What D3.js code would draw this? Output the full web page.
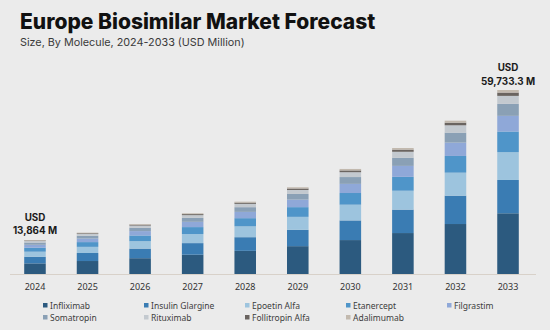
<!DOCTYPE html>
<html>
<head>
<meta charset="utf-8">
<script src="https://cdn.jsdelivr.net/npm/d3@7"></script>
<style>
  html, body { margin: 0; padding: 0; background: #ebebeb; }
  svg { display: block; }
</style>
</head>
<body>
<svg id="chart" width="550" height="330"></svg>
<script>
// Forecast years
const years = ["2024", "2025", "2026", "2027", "2028", "2029", "2030", "2031", "2032", "2033"];

// Molecules, bottom of the stack first
const molecules = ["Infliximab", "Insulin Glargine", "Epoetin Alfa", "Etanercept", "Filgrastim",
                   "Somatropin", "Rituximab", "Follitropin Alfa", "Adalimumab"];

// Revenue per molecule (USD Million), one value per year
const infliximab      = [4325.6, 5152.7, 6114.6, 7275.8, 8521.6, 10002.4, 11879.9, 13991.3, 16629.3, 19712.0];
const insulinGlargine = [2717.3, 3183.5, 3715.2, 4370.1, 5033.1, 5858.1, 6877.9, 8007.3, 9436.9, 10811.7];
const epoetinAlfa     = [2051.9, 2445.1, 2883.2, 3432.0, 3994.5, 4674.0, 5517.0, 6457.5, 7651.5, 9019.7];
const etanercept      = [1608.2, 1887.2, 2205.9, 2608.3, 3009.2, 3489.9, 4082.6, 4735.5, 5560.1, 6720.0];
const filgrastim      = [1220.0, 1427.7, 1683.5, 1990.6, 2316.8, 2710.9, 3199.9, 3745.4, 4437.9, 5077.3];
const somatropin      = [915.0, 1083.1, 1277.1, 1487.2, 1731.0, 2025.4, 2390.7, 2798.3, 3315.7, 3882.7];
const rituximab       = [610.0, 722.0, 870.8, 1029.6, 1225.0, 1433.4, 1691.9, 2023.4, 2448.5, 2598.4];
const follitropinAlfa = [221.8, 279.0, 329.0, 389.0, 452.7, 529.7, 625.3, 731.9, 867.2, 1075.2];
const adalimumab      = [194.2, 229.7, 270.7, 297.4, 346.1, 436.2, 514.8, 559.4, 662.9, 836.3];

// Years whose totals carry a callout
const labelledYears = ["2024", "2033"];

const seriesValues = [infliximab, insulinGlargine, epoetinAlfa, etanercept, filgrastim,
                      somatropin, rituximab, follitropinAlfa, adalimumab];

const colors = ["#2c5a7f", "#3a7cb3", "#9dc4de", "#4f95c9", "#8fa8d8",
                "#8aa0b5", "#c3c9cf", "#6a6460", "#c2b9ae"];

// Build table rows for the stack layout
const table = years.map((yr, i) => {
  const row = { year: yr };
  molecules.forEach((m, j) => { row[m] = seriesValues[j][i]; });
  row.total = d3.sum(seriesValues, s => s[i]);
  return row;
});

const svg = d3.select("#chart");
const baseY = 274;
const topY = 90;

const x = d3.scaleBand()
  .domain(years)
  .range([8.7, 534.3])
  .paddingInner(0.59)
  .paddingOuter(0.295);

const maxTotal = d3.max(table, d => d.total);
// Bar heights follow a gently compressed power scale
const y = d3.scalePow().exponent(1.156)
  .domain([0, maxTotal])
  .range([baseY, topY]);

const stack = d3.stack().keys(molecules);
const layers = stack(table);

// Title and subtitle
svg.append("text")
  .attr("x", 20).attr("y", 28.5)
  .attr("font-family", "Inter, 'Noto Sans', sans-serif")
  .attr("font-weight", 800)
  .attr("font-size", 21)
  .attr("fill", "#111")
  .text("Europe Biosimilar Market Forecast");

svg.append("text")
  .attr("x", 20).attr("y", 46)
  .attr("font-family", "Inter, 'Noto Sans', sans-serif")
  .attr("font-size", 10.8)
  .attr("fill", "#3a3a3a")
  .text("Size, By Molecule, 2024-2033 (USD Million)");

// Axis along the baseline
const axis = svg.append("g")
  .attr("transform", `translate(0,${baseY + 0.5})`)
  .call(d3.axisBottom(x).tickSize(0).tickPadding(9));
axis.select(".domain").attr("stroke", "#d8d1c9").attr("d", "M10,0H536");
axis.selectAll("text")
  .attr("font-family", "'Noto Sans', sans-serif")
  .attr("font-size", 9)
  .attr("fill", "#333");

// Each bar gets its own linear scale so segments split the bar by share
const barScale = d => d3.scaleLinear().domain([0, d.total]).range([y(0), y(d.total)]);

const layerG = svg.append("g")
  .selectAll("g")
  .data(layers)
  .join("g")
  .attr("fill", (d, i) => colors[i]);

layerG.selectAll("rect")
  .data(d => d)
  .join("rect")
  .attr("x", d => x(d.data.year))
  .attr("width", x.bandwidth())
  .attr("y", d => barScale(d.data)(d[1]))
  .attr("height", d => barScale(d.data)(d[0]) - barScale(d.data)(d[1]));

// Total callouts
const fmt = v => (Number.isInteger(Math.round(v * 10) / 10) ? d3.format(",.0f")(v) : d3.format(",.1f")(v));
const callouts = svg.append("g")
  .selectAll("text")
  .data(table.filter(d => labelledYears.includes(d.year)))
  .join("text")
  .attr("text-anchor", "middle")
  .attr("font-family", "Inter, 'Noto Sans', sans-serif")
  .attr("font-weight", 700)
  .attr("font-size", 9.8)
  .attr("fill", "#1a1a1a")
  .attr("x", d => x(d.year) + x.bandwidth() / 2)
  .attr("y", d => y(d.total) - 19);
callouts.append("tspan").text("USD");
callouts.append("tspan")
  .attr("x", d => x(d.year) + x.bandwidth() / 2)
  .attr("dy", 13.5)
  .text(d => fmt(d.total) + " M");

// Legend: two rows of five
const legend = svg.append("g")
  .selectAll("g")
  .data(molecules)
  .join("g")
  .attr("transform", (d, i) => `translate(${43 + (i % 5) * 101},${306 + Math.floor(i / 5) * 12})`);
legend.append("rect")
  .attr("x", 0).attr("y", -3)
  .attr("width", 4.5).attr("height", 4.5)
  .attr("fill", (d, i) => colors[i]);
legend.append("text")
  .attr("x", 7).attr("y", 3)
  .attr("font-family", "'Noto Sans', sans-serif")
  .attr("font-size", 8.5)
  .attr("fill", "#3d3d3d")
  .text(d => d);
</script>
</body>
</html>
